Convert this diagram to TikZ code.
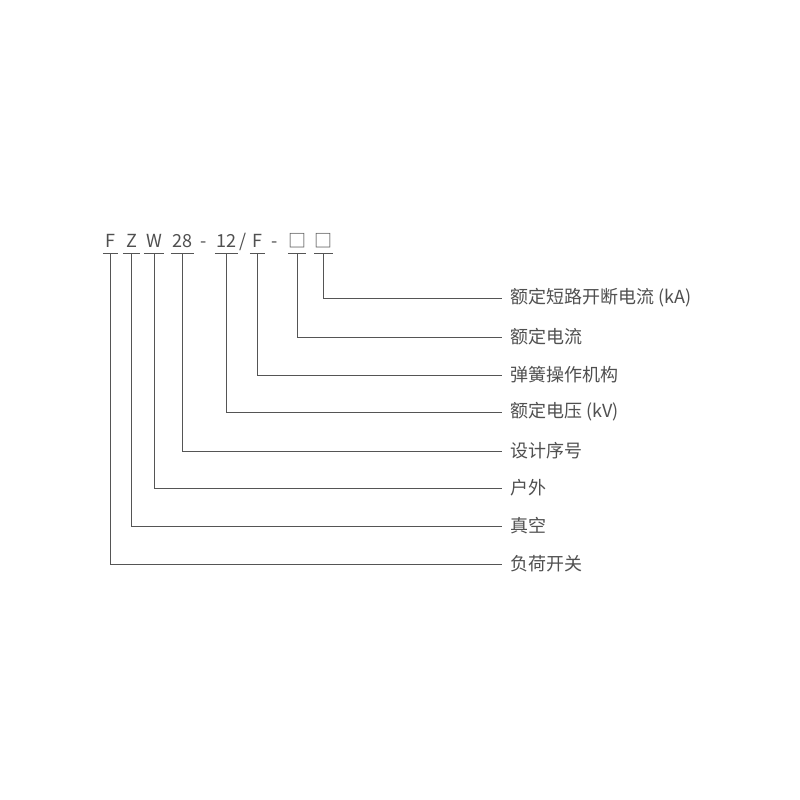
\documentclass[tikz,border=0pt]{standalone}
\usepackage{fontspec}
\setmainfont{Noto Sans CJK SC}
\begin{document}
\begin{tikzpicture}[x=1pt,y=-1pt,
  code/.style={font=\fontsize{18}{20}\selectfont, text=txtgray, inner sep=0pt, anchor=base, text height=13pt, text depth=6pt},
  item/.style={code, minimum width=#1},
  uline/.style={draw=linegray, line width=0.9pt},
  conn/.style={draw=linegray, line width=0.9pt},
  lab/.style={font=\fontsize{18}{20}\selectfont, text=txtgray, anchor=west, inner xsep=8pt, inner ysep=0pt}
]
\definecolor{txtgray}{HTML}{505050}
\definecolor{linegray}{HTML}{555555}
\useasboundingbox (0,0) rectangle (800,800);
\fill[white] (0,0) rectangle (800,800);

% top code
\node[item=15pt] (f)  at (110.5,247) {F};
\node[item=17pt] (z)  at (131.5,247) {Z};
\node[item=20pt] (w)  at (154,247) {W};
\node[item=23pt] (n28) at (182.5,247) {28};
\node[code] (d1) at (204,247) {-};
\node[item=23pt] (n12) at (226.5,247) {12};
\node[code] (sl) at (243,247) {/};
\node[item=15pt] (f2) at (257.5,247) {F};
\node[code] (d2) at (275,247) {-};
\node[item=18pt] (b1) at (297,247) {□};
\node[item=17pt] (b2) at (323.5,247) {□};

\foreach \n in {f,z,w,n28,n12,f2,b1,b2}
  \draw[uline] (\n.south west) -- (\n.south east);

% labels
\node[lab] (l1) at (502,298) {额定短路开断电流 (kA)};
\node[lab] (l2) at (502,337) {额定电流};
\node[lab] (l3) at (502,375) {弹簧操作机构};
\node[lab] (l4) at (502,412) {额定电压 (kV)};
\node[lab] (l5) at (502,451) {设计序号};
\node[lab] (l6) at (502,488) {户外};
\node[lab] (l7) at (502,526) {真空};
\node[lab] (l8) at (502,564) {负荷开关};

\draw[conn] (b2.south) |- (l1.west);
\draw[conn] (b1.south) |- (l2.west);
\draw[conn] (f2.south) |- (l3.west);
\draw[conn] (n12.south) |- (l4.west);
\draw[conn] (n28.south) |- (l5.west);
\draw[conn] (w.south) |- (l6.west);
\draw[conn] (z.south) |- (l7.west);
\draw[conn] (f.south) |- (l8.west);
\end{tikzpicture}
\end{document}
